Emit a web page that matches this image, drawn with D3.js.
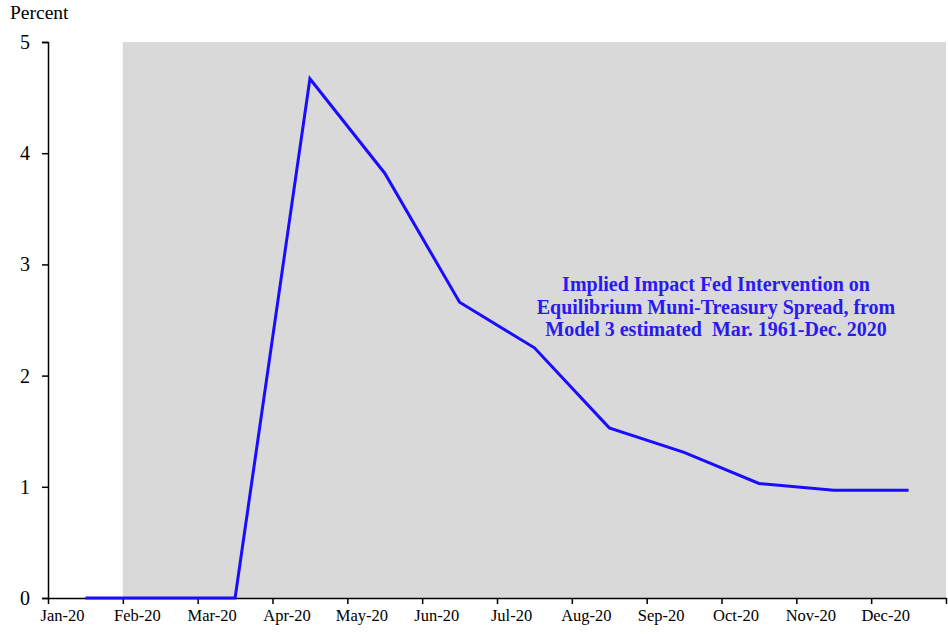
<!DOCTYPE html>
<html>
<head>
<meta charset="utf-8">
<script src="https://cdn.jsdelivr.net/npm/d3@7"></script>
<style>
body { margin: 0; background: #fff; }
text { font-family: "Liberation Serif", "Times New Roman", serif; }
</style>
</head>
<body>
<svg id="chart" width="948" height="634"></svg>
<script>
// months on the x axis and the impact series (percent)
var months = ["Jan-20", "Feb-20", "Mar-20", "Apr-20", "May-20", "Jun-20",
              "Jul-20", "Aug-20", "Sep-20", "Oct-20", "Nov-20", "Dec-20"];
var impact = [0, 0, 0, 4.67, 3.82, 2.66, 2.25, 1.53, 1.31, 1.03, 0.97, 0.97];
var yTicks = [0, 1, 2, 3, 4, 5];
var shadeFrom = "Feb-20";
var note = ["Implied Impact Fed Intervention on",
            "Equilibrium Muni-Treasury Spread, from",
            "Model 3 estimated  Mar. 1961-Dec. 2020"];

var mLeft = 48, mRight = 946, mTop = 42, mBottom = 598;
var svg = d3.select("#chart");

var x = d3.scaleLinear().domain([0, months.length]).range([mLeft, mRight]);
var y = d3.scaleLinear().domain([0, 5]).range([mBottom, mTop]);

// grey shaded period
var s = months.indexOf(shadeFrom);
svg.append("rect")
  .attr("x", x(s))
  .attr("y", y(5))
  .attr("width", x(months.length) - x(s))
  .attr("height", y(0) - y(5))
  .attr("fill", "#d9d9d9");

// y axis
var yAxis = svg.append("g")
  .attr("transform", "translate(" + mLeft + ",0)")
  .call(d3.axisLeft(y).tickValues(yTicks).tickFormat(d3.format("d")).tickSize(6).tickPadding(12));
yAxis.select(".domain").attr("stroke", "#000").attr("stroke-width", 1.5);
yAxis.selectAll(".tick line").attr("stroke", "#000").attr("stroke-width", 1.5);
yAxis.selectAll("text").attr("font-size", 20).attr("fill", "#000")
  .attr("font-family", "Liberation Serif");

// x axis: ticks at month boundaries, labels slightly to the right
var xAxis = svg.append("g")
  .attr("transform", "translate(0," + mBottom + ")")
  .call(d3.axisBottom(x).tickValues(d3.range(months.length + 1))
    .tickFormat(function(i) { return months[i] || ""; })
    .tickSize(6).tickSizeOuter(0).tickPadding(5));
xAxis.select(".domain").attr("stroke", "#000").attr("stroke-width", 1.5);
xAxis.selectAll(".tick line").attr("stroke", "#000").attr("stroke-width", 1.5);
xAxis.selectAll("text").attr("font-size", 16.5).attr("fill", "#000")
  .attr("dx", 14).attr("font-family", "Liberation Serif");

// series line, one point per month in the middle of each interval
var line = d3.line()
  .x(function(d, i) { return x(i + 0.5); })
  .y(function(d) { return y(d); });
svg.append("path")
  .attr("d", line(impact))
  .attr("fill", "none")
  .attr("stroke", "#1a0dff")
  .attr("stroke-width", 3)
  .attr("stroke-linejoin", "miter");

// axis title
svg.append("text")
  .attr("x", 10)
  .attr("y", 19)
  .attr("font-size", 19.5)
  .text("Percent");

// annotation
svg.append("text")
  .attr("text-anchor", "middle")
  .attr("font-size", 20)
  .attr("font-weight", "bold")
  .attr("fill", "#2a1aef")
  .selectAll("tspan")
  .data(note)
  .enter().append("tspan")
  .attr("x", 716)
  .attr("y", function(d, i) { return 291 + i * 22.5; })
  .attr("xml:space", "preserve")
  .text(function(d) { return d; });
</script>
</body>
</html>
